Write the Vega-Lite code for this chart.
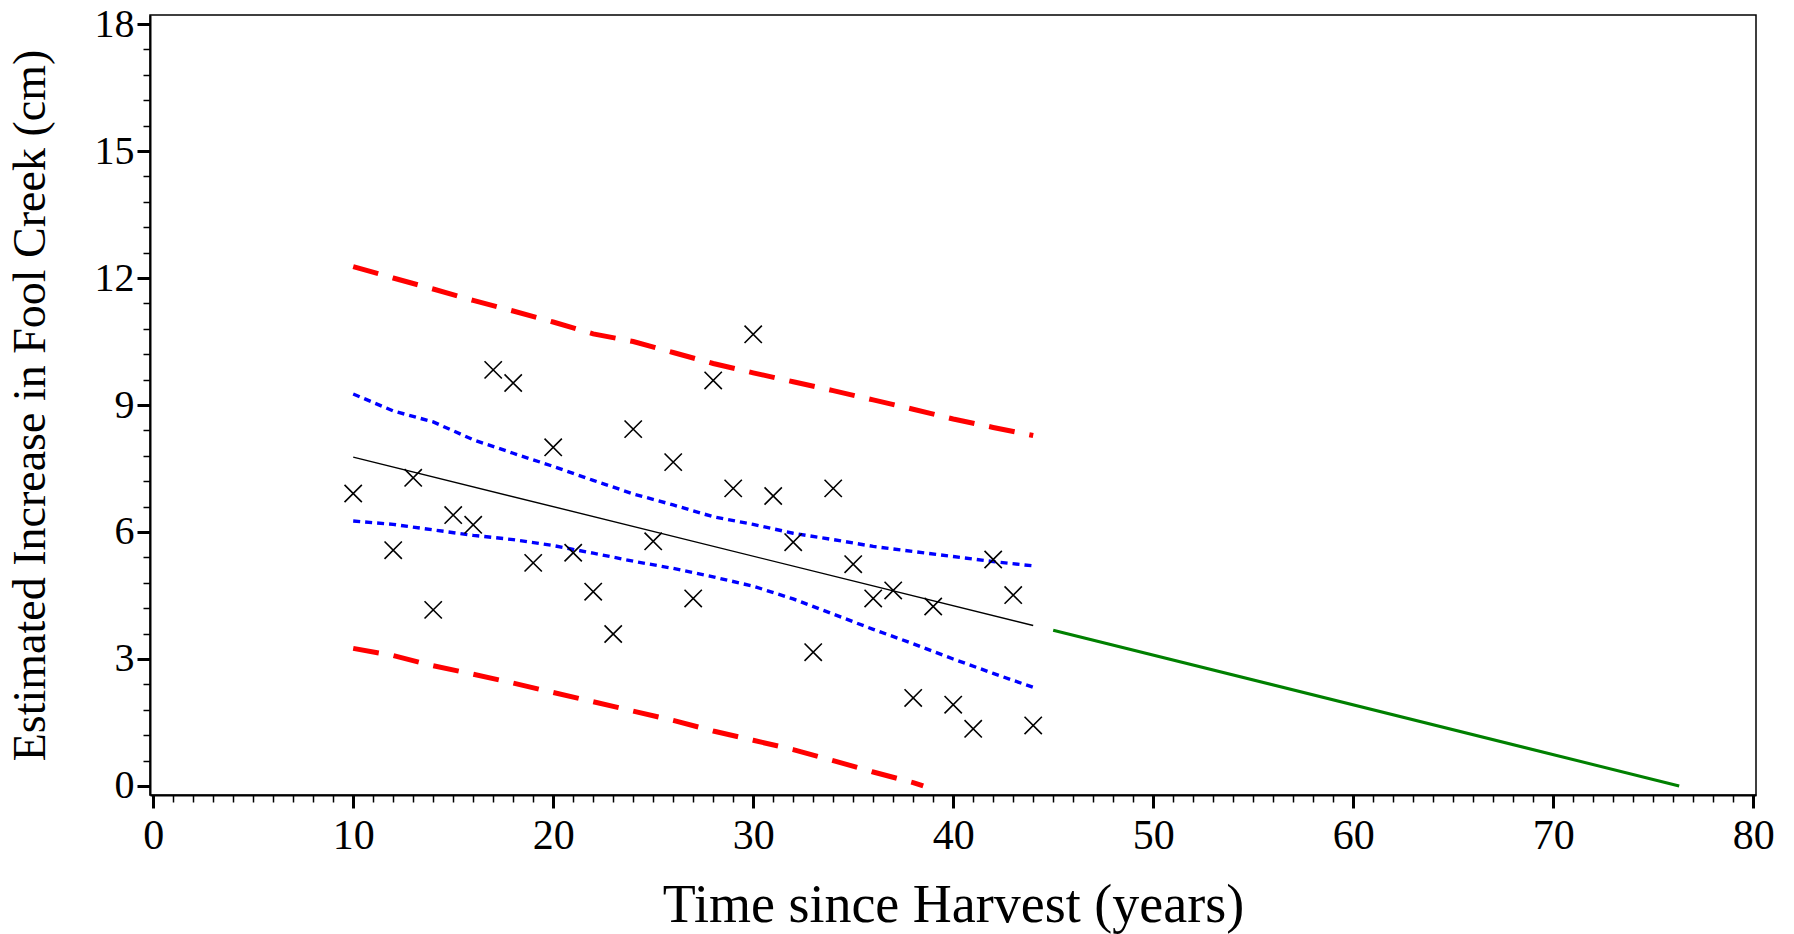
{
  "$schema": "https://vega.github.io/schema/vega-lite/v6.json",
  "width": 1606,
  "height": 780,
  "autosize": {"type": "none"},
  "padding": {"left": 150, "top": 15, "right": 38, "bottom": 139},
  "background": "white",
  "config": {
    "view": {"stroke": "black", "strokeWidth": 1.5},
    "axis": {
      "grid": false,
      "domainColor": "black",
      "domainWidth": 2,
      "tickColor": "black",
      "labelColor": "black",
      "titleColor": "black",
      "labelFont": "Liberation Serif",
      "titleFont": "Liberation Serif",
      "titleFontWeight": "normal",
      "labelOverlap": false,
      "labelFlush": false
    }
  },
  "data": {
    "values": [
      {"s": "obs", "x": 10, "y": 6.91},
      {"s": "obs", "x": 12, "y": 5.57},
      {"s": "obs", "x": 13, "y": 7.28},
      {"s": "obs", "x": 14, "y": 4.16},
      {"s": "obs", "x": 15, "y": 6.40},
      {"s": "obs", "x": 16, "y": 6.17},
      {"s": "obs", "x": 17, "y": 9.83},
      {"s": "obs", "x": 18, "y": 9.52},
      {"s": "obs", "x": 19, "y": 5.27},
      {"s": "obs", "x": 20, "y": 8.0},
      {"s": "obs", "x": 21, "y": 5.51},
      {"s": "obs", "x": 22, "y": 4.59},
      {"s": "obs", "x": 23, "y": 3.59},
      {"s": "obs", "x": 24, "y": 8.43},
      {"s": "obs", "x": 25, "y": 5.78},
      {"s": "obs", "x": 26, "y": 7.65},
      {"s": "obs", "x": 27, "y": 4.43},
      {"s": "obs", "x": 28, "y": 9.58},
      {"s": "obs", "x": 29, "y": 7.03},
      {"s": "obs", "x": 30, "y": 10.67},
      {"s": "obs", "x": 31, "y": 6.85},
      {"s": "obs", "x": 32, "y": 5.76},
      {"s": "obs", "x": 33, "y": 3.16},
      {"s": "obs", "x": 34, "y": 7.03},
      {"s": "obs", "x": 35, "y": 5.24},
      {"s": "obs", "x": 36, "y": 4.43},
      {"s": "obs", "x": 37, "y": 4.62},
      {"s": "obs", "x": 38, "y": 2.08},
      {"s": "obs", "x": 39, "y": 4.24},
      {"s": "obs", "x": 40, "y": 1.92},
      {"s": "obs", "x": 41, "y": 1.35},
      {"s": "obs", "x": 42, "y": 5.35},
      {"s": "obs", "x": 43, "y": 4.51},
      {"s": "obs", "x": 44, "y": 1.43},
      {"s": "fit", "x": 10, "y": 7.77},
      {"s": "fit", "x": 44, "y": 3.79},
      {"s": "ext", "x": 45, "y": 3.68},
      {"s": "ext", "x": 76.3, "y": 0.0},
      {"s": "clu", "x": 10, "y": 9.26},
      {"s": "clu", "x": 12, "y": 8.86},
      {"s": "clu", "x": 14, "y": 8.60},
      {"s": "clu", "x": 16, "y": 8.18},
      {"s": "clu", "x": 18, "y": 7.86},
      {"s": "clu", "x": 20, "y": 7.55},
      {"s": "clu", "x": 22, "y": 7.22},
      {"s": "clu", "x": 24, "y": 6.90},
      {"s": "clu", "x": 26, "y": 6.64},
      {"s": "clu", "x": 28, "y": 6.36},
      {"s": "clu", "x": 30, "y": 6.18},
      {"s": "clu", "x": 32, "y": 5.97},
      {"s": "clu", "x": 34, "y": 5.82},
      {"s": "clu", "x": 36, "y": 5.66},
      {"s": "clu", "x": 38, "y": 5.54},
      {"s": "clu", "x": 40, "y": 5.42},
      {"s": "clu", "x": 42, "y": 5.30},
      {"s": "clu", "x": 44, "y": 5.20},
      {"s": "cll", "x": 10, "y": 6.26},
      {"s": "cll", "x": 12, "y": 6.18},
      {"s": "cll", "x": 14, "y": 6.05},
      {"s": "cll", "x": 16, "y": 5.92},
      {"s": "cll", "x": 18, "y": 5.82},
      {"s": "cll", "x": 20, "y": 5.68},
      {"s": "cll", "x": 22, "y": 5.50},
      {"s": "cll", "x": 24, "y": 5.31},
      {"s": "cll", "x": 26, "y": 5.14},
      {"s": "cll", "x": 28, "y": 4.94},
      {"s": "cll", "x": 30, "y": 4.72},
      {"s": "cll", "x": 32, "y": 4.42},
      {"s": "cll", "x": 34, "y": 4.06},
      {"s": "cll", "x": 36, "y": 3.70},
      {"s": "cll", "x": 38, "y": 3.36},
      {"s": "cll", "x": 40, "y": 3.00},
      {"s": "cll", "x": 42, "y": 2.66},
      {"s": "cll", "x": 44, "y": 2.33},
      {"s": "plu", "x": 10, "y": 12.27},
      {"s": "plu", "x": 12, "y": 12.00},
      {"s": "plu", "x": 14, "y": 11.74},
      {"s": "plu", "x": 16, "y": 11.47},
      {"s": "plu", "x": 18, "y": 11.22},
      {"s": "plu", "x": 20, "y": 10.96},
      {"s": "plu", "x": 22, "y": 10.68},
      {"s": "plu", "x": 24, "y": 10.50},
      {"s": "plu", "x": 26, "y": 10.24},
      {"s": "plu", "x": 28, "y": 9.98},
      {"s": "plu", "x": 30, "y": 9.76},
      {"s": "plu", "x": 32, "y": 9.55},
      {"s": "plu", "x": 34, "y": 9.34},
      {"s": "plu", "x": 36, "y": 9.12},
      {"s": "plu", "x": 38, "y": 8.90},
      {"s": "plu", "x": 40, "y": 8.67},
      {"s": "plu", "x": 42, "y": 8.47},
      {"s": "plu", "x": 44, "y": 8.28},
      {"s": "pll", "x": 10, "y": 3.25},
      {"s": "pll", "x": 12, "y": 3.08},
      {"s": "pll", "x": 14, "y": 2.84},
      {"s": "pll", "x": 16, "y": 2.64},
      {"s": "pll", "x": 18, "y": 2.43},
      {"s": "pll", "x": 20, "y": 2.21},
      {"s": "pll", "x": 22, "y": 1.99},
      {"s": "pll", "x": 24, "y": 1.77},
      {"s": "pll", "x": 26, "y": 1.55},
      {"s": "pll", "x": 28, "y": 1.30},
      {"s": "pll", "x": 30, "y": 1.08},
      {"s": "pll", "x": 32, "y": 0.86},
      {"s": "pll", "x": 34, "y": 0.60},
      {"s": "pll", "x": 36, "y": 0.33},
      {"s": "pll", "x": 38, "y": 0.08},
      {"s": "pll", "x": 38.5, "y": 0.0}
    ]
  },
  "encoding": {
    "x": {
      "field": "x",
      "type": "quantitative",
      "scale": {"domain": [-0.16, 80.14], "nice": false, "zero": false},
      "axis": {
        "title": "Time since Harvest (years)",
        "titleFontSize": 54,
        "titlePadding": 22,
        "labelFontSize": 42,
        "labelPadding": 7,
        "values": [0,1,2,3,4,5,6,7,8,9,10,11,12,13,14,15,16,17,18,19,20,21,22,23,24,25,26,27,28,29,30,31,32,33,34,35,36,37,38,39,40,41,42,43,44,45,46,47,48,49,50,51,52,53,54,55,56,57,58,59,60,61,62,63,64,65,66,67,68,69,70,71,72,73,74,75,76,77,78,79,80],
        "labelExpr": "datum.value % 10 === 0 ? datum.label : ''",
        "tickSize": {"condition": {"test": "datum.value % 10 === 0", "value": 13}, "value": 7},
        "tickWidth": {"condition": {"test": "datum.value % 10 === 0", "value": 3}, "value": 1.5}
      }
    },
    "y": {
      "field": "y",
      "type": "quantitative",
      "scale": {"domain": [-0.213, 18.213], "nice": false, "zero": false},
      "axis": {
        "title": "Estimated Increase in Fool Creek (cm)",
        "titleFontSize": 46,
        "titlePadding": 40,
        "labelFontSize": 40,
        "labelPadding": 3,
        "values": [0,0.6,1.2,1.8,2.4,3,3.6,4.2,4.8,5.4,6,6.6,7.2,7.8,8.4,9,9.6,10.2,10.8,11.4,12,12.6,13.2,13.8,14.4,15,15.6,16.2,16.8,17.4,18],
        "labelExpr": "abs(datum.value - 3*round(datum.value/3)) < 0.001 ? format(datum.value, 'd') : ''",
        "tickSize": {"condition": {"test": "abs(datum.value - 3*round(datum.value/3)) < 0.001", "value": 13}, "value": 7},
        "tickWidth": {"condition": {"test": "abs(datum.value - 3*round(datum.value/3)) < 0.001", "value": 3}, "value": 1.5}
      }
    }
  },
  "layer": [
    {
      "transform": [{"filter": "datum.s === 'plu'"}],
      "mark": {"type": "line", "color": "#ff0000", "strokeWidth": 5, "strokeDash": [26, 15], "strokeCap": "butt"}
    },
    {
      "transform": [{"filter": "datum.s === 'pll'"}],
      "mark": {"type": "line", "color": "#ff0000", "strokeWidth": 5, "strokeDash": [26, 15], "strokeCap": "butt"}
    },
    {
      "transform": [{"filter": "datum.s === 'clu'"}],
      "mark": {"type": "line", "color": "#0000ff", "strokeWidth": 3.4, "strokeDash": [7, 5], "strokeCap": "butt"}
    },
    {
      "transform": [{"filter": "datum.s === 'cll'"}],
      "mark": {"type": "line", "color": "#0000ff", "strokeWidth": 3.4, "strokeDash": [7, 5], "strokeCap": "butt"}
    },
    {
      "transform": [{"filter": "datum.s === 'fit'"}],
      "mark": {"type": "line", "color": "black", "strokeWidth": 1.4}
    },
    {
      "transform": [{"filter": "datum.s === 'ext'"}],
      "mark": {"type": "line", "color": "#008000", "strokeWidth": 3}
    },
    {
      "transform": [{"filter": "datum.s === 'obs'"}],
      "mark": {"type": "point", "shape": "M-1,-1L1,1M-1,1L1,-1", "size": 300, "filled": false, "color": "black", "strokeWidth": 1.6, "opacity": 1}
    }
  ]
}
